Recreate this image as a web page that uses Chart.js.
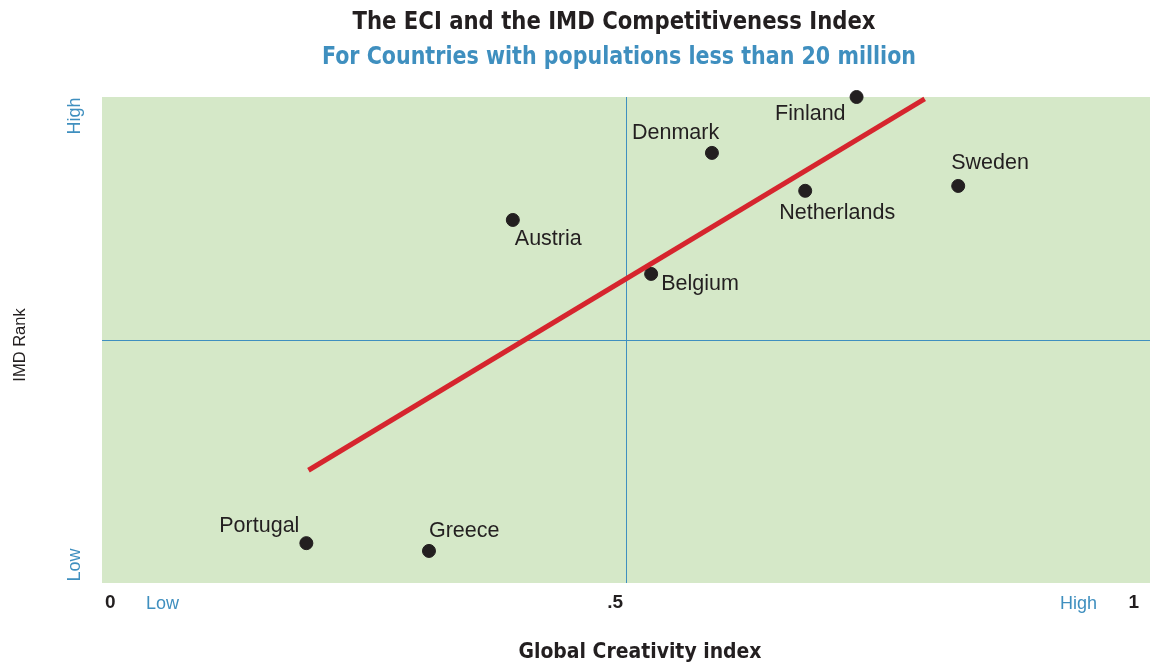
<!DOCTYPE html>
<html>
<head>
<meta charset="utf-8">
<script src="https://cdn.jsdelivr.net/npm/chart.js@4"></script>
<style>
    html, body { margin: 0; padding: 0; background: #fff; overflow: hidden; }
    canvas { display: block; }
</style>
</head>
<body>
<canvas id="eciChart" width="1150" height="670"></canvas>
<script>
// Data
const countries = ['Finland', 'Denmark', 'Sweden', 'Netherlands', 'Austria', 'Belgium', 'Portugal', 'Greece'];
const creativity = [0.720, 0.582, 0.817, 0.671, 0.392, 0.524, 0.195, 0.312];
const imdRank = [1.000, 0.885, 0.817, 0.807, 0.747, 0.636, 0.082, 0.066];
const trendX = [0.197, 0.785];
const trendY = [0.232, 0.996];
const xTicks = [0, 0.5, 1];
const xTickLabels = ['0', '.5', '1'];

const blue = '#3f8fbf';
const ink = '#231f20';
const narrow = '"DejaVu Sans Condensed", "DejaVu Sans", sans-serif';
const plain = '"Liberation Sans", Arial, sans-serif';

// Label placement around each dot: [dx, dy, align]
const labelPos = {
    Finland: [-11, 17, 'right'],
    Denmark: [-80, -20, 'left'],
    Sweden: [-7, -23, 'left'],
    Netherlands: [-26, 22, 'left'],
    Austria: [2, 19, 'left'],
    Belgium: [10, 10, 'left'],
    Portugal: [-7, -17, 'right'],
    Greece: [0, -20, 'left']
};

// Plot background and quadrant lines
const backdrop = {
    id: 'backdrop',
    beforeDatasetsDraw(chart) {
        const { ctx, chartArea: a, scales: { x, y } } = chart;
        ctx.save();
        ctx.fillStyle = '#d5e8c8';
        ctx.fillRect(a.left, a.top, a.right - a.left, a.bottom - a.top);
        ctx.strokeStyle = blue;
        ctx.lineWidth = 1;
        const mx = Math.round(x.getPixelForValue(0.5)) + 0.5;
        const my = Math.round(y.getPixelForValue(0.5)) + 0.5;
        ctx.beginPath();
        ctx.moveTo(mx, a.top);
        ctx.lineTo(mx, a.bottom);
        ctx.moveTo(a.left, my);
        ctx.lineTo(a.right, my);
        ctx.stroke();
        ctx.restore();
    }
};

// text squeezed to a given width, centred on cx
function squeezed(ctx, t, cx, cy, width) {
    const w = ctx.measureText(t).width;
    const k = Math.min(1, width / w);
    ctx.save();
    ctx.translate(cx, cy);
    ctx.scale(k, 1);
    ctx.textAlign = 'center';
    ctx.fillText(t, 0, 0);
    ctx.restore();
}

// Titles, axis texts and country labels
const texts = {
    id: 'texts',
    afterDraw(chart) {
        const { ctx, chartArea: a, scales: { x, y } } = chart;
        ctx.save();
        ctx.textBaseline = 'middle';
        ctx.textAlign = 'center';

        ctx.fillStyle = ink;
        ctx.font = 'bold 25px ' + narrow;
        squeezed(ctx, 'The ECI and the IMD Competitiveness Index', 614, 22, 523);
        ctx.fillStyle = blue;
        squeezed(ctx, 'For Countries with populations less than 20 million', 619, 57, 594);

        // country labels
        const meta = chart.getDatasetMeta(1);
        ctx.fillStyle = ink;
        ctx.font = '21.5px ' + plain;
        countries.forEach((name, i) => {
            const pt = meta.data[i];
            const [dx, dy, align] = labelPos[name];
            ctx.textAlign = align;
            ctx.fillText(name, pt.x + dx, pt.y + dy);
        });

        // x tick labels
        ctx.font = 'bold 19px ' + plain;
        ctx.fillStyle = ink;
        const tickAlign = ['left', 'right', 'right'];
        const tickShift = [3, -3, -11];
        xTicks.forEach((v, i) => {
            ctx.textAlign = tickAlign[i];
            ctx.fillText(xTickLabels[i], x.getPixelForValue(v) + tickShift[i], a.bottom + 20);
        });

        ctx.font = '18px ' + plain;
        ctx.fillStyle = blue;
        ctx.textAlign = 'left';
        ctx.fillText('Low', a.left + 44, a.bottom + 21);
        ctx.textAlign = 'right';
        ctx.fillText('High', a.right - 53, a.bottom + 21);

        ctx.fillStyle = ink;
        ctx.font = 'bold 21px ' + narrow;
        squeezed(ctx, 'Global Creativity index', 640, 653, 243);

        // y axis texts (rotated)
        const vtext = (t, px, py, font, color) => {
            ctx.save();
            ctx.translate(px, py);
            ctx.rotate(-Math.PI / 2);
            ctx.font = font;
            ctx.fillStyle = color;
            ctx.textAlign = 'center';
            ctx.fillText(t, 0, 0);
            ctx.restore();
        };
        vtext('High', 75, a.top + 19, '18px ' + plain, blue);
        vtext('Low', 75, a.bottom - 18, '18px ' + plain, blue);
        vtext('IMD Rank', 20, 345, '16.5px ' + plain, ink);
        ctx.restore();
    }
};

new Chart(document.getElementById('eciChart'), {
    type: 'scatter',
    data: {
        datasets: [{
            type: 'line',
            label: 'Trend',
            data: trendX.map((v, i) => ({ x: v, y: trendY[i] })),
            borderColor: '#d6252e',
            borderWidth: 5,
            pointRadius: 0,
            fill: false,
            clip: false
        }, {
            label: 'Countries',
            data: countries.map((c, i) => ({ x: creativity[i], y: imdRank[i] })),
            backgroundColor: ink,
            borderColor: ink,
            pointRadius: 6.5,
            pointHoverRadius: 6.5,
            clip: false
        }]
    },
    options: {
        responsive: false,
        animation: false,
        layout: {
            autoPadding: false,
            padding: { left: 102, right: 0, top: 97, bottom: 87 }
        },
        plugins: {
            legend: { display: false },
            tooltip: { enabled: false }
        },
        scales: {
            x: { type: 'linear', min: 0, max: 1, display: false },
            y: { type: 'linear', min: 0, max: 1, display: false }
        }
    },
    plugins: [backdrop, texts]
});
</script>
</body>
</html>
